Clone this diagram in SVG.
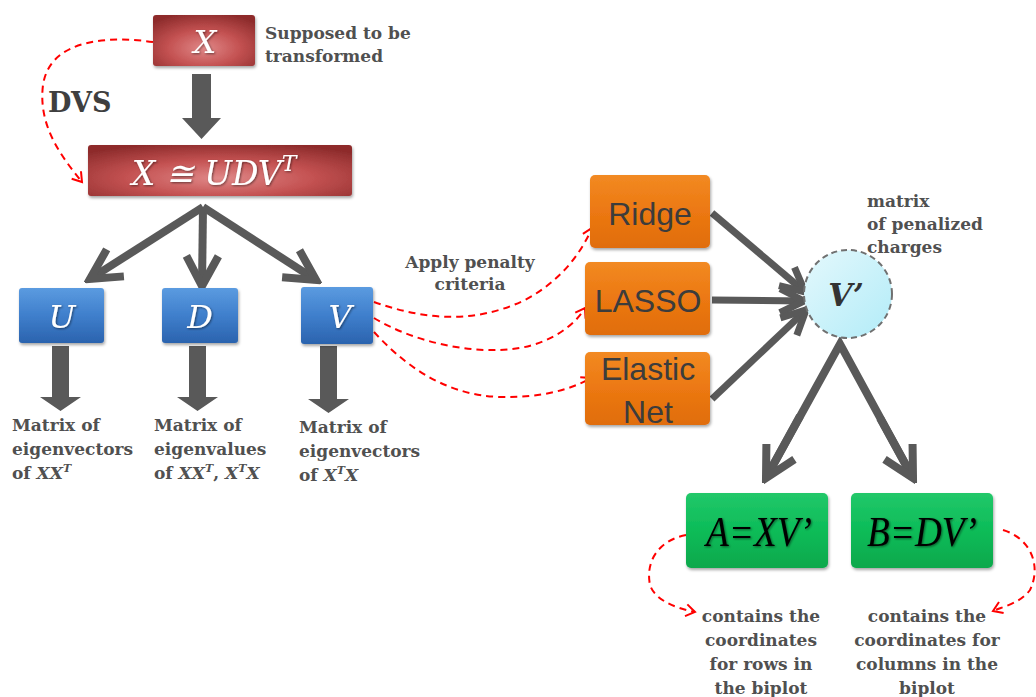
<svg xmlns="http://www.w3.org/2000/svg" width="1036" height="697" viewBox="0 0 1036 697">
<defs>
<radialGradient id="gRed" cx="0.5" cy="0.65" r="0.7">
<stop offset="0" stop-color="#e08888"/>
<stop offset="0.5" stop-color="#c45252"/>
<stop offset="1" stop-color="#8e2c2c"/>
</radialGradient>
<linearGradient id="gBlue" x1="0" y1="0" x2="0" y2="1">
<stop offset="0" stop-color="#5b9be0"/>
<stop offset="0.5" stop-color="#3f7fcc"/>
<stop offset="1" stop-color="#2b63ae"/>
</linearGradient>
<linearGradient id="gOrange" x1="0" y1="0" x2="0" y2="1">
<stop offset="0" stop-color="#f28a22"/>
<stop offset="0.5" stop-color="#ec7812"/>
<stop offset="1" stop-color="#e06d0c"/>
</linearGradient>
<linearGradient id="gGreen" x1="0" y1="0" x2="0" y2="1">
<stop offset="0" stop-color="#22c86a"/>
<stop offset="0.5" stop-color="#0cbc58"/>
<stop offset="1" stop-color="#0aa84c"/>
</linearGradient>
<linearGradient id="gCyan" x1="0" y1="0" x2="1" y2="1">
<stop offset="0" stop-color="#e4f8fc"/>
<stop offset="1" stop-color="#b2ecf8"/>
</linearGradient>
<filter id="sh" x="-10%" y="-10%" width="130%" height="140%">
<feDropShadow dx="1" dy="2" stdDeviation="1.5" flood-color="#000" flood-opacity="0.35"/>
</filter>
<filter id="tsh" x="-10%" y="-10%" width="130%" height="140%">
<feDropShadow dx="1" dy="1" stdDeviation="0.8" flood-color="#000" flood-opacity="0.5"/>
</filter>
<marker id="chev" markerUnits="userSpaceOnUse" markerWidth="40" markerHeight="40" viewBox="-34 -20 40 40" refX="0" refY="0" orient="auto">
<path d="M -30 -16 L 0 0 L -30 16" fill="none" stroke="#595959" stroke-width="8" stroke-linejoin="miter"/>
</marker>
<marker id="chevS" markerUnits="userSpaceOnUse" markerWidth="34" markerHeight="34" viewBox="-28 -17 34 34" refX="0" refY="0" orient="auto">
<path d="M -24 -12 L 0 0 L -24 12" fill="none" stroke="#595959" stroke-width="7" stroke-linejoin="miter"/>
</marker>
<marker id="redA" markerUnits="userSpaceOnUse" markerWidth="16" markerHeight="16" viewBox="-12 -8 16 16" refX="0" refY="0" orient="auto">
<path d="M -9 -6 L 0 0 L -9 6" fill="none" stroke="#ff0000" stroke-width="2"/>
</marker>
</defs>
<style>
.lbl{font-family:"DejaVu Serif",serif;font-weight:bold;font-size:17px;fill:#505050}
.m{font-style:italic}
.mathW{font-family:"DejaVu Serif",serif;font-style:italic;fill:#ffffff}
.orangeT{font-family:"Liberation Sans",Arial,sans-serif;font-size:32px;fill:#3c3c3c;text-anchor:middle}
.greenT{font-family:"Liberation Serif","Times New Roman",serif;font-style:italic;font-size:43px;fill:#000;text-anchor:middle}
.dash{fill:none;stroke:#ff0000;stroke-width:2;stroke-dasharray:7 5}
.thick{fill:none;stroke:#595959;stroke-width:8}
.thickS{fill:none;stroke:#595959;stroke-width:7}
.blk{fill:#595959}
</style>

<g id="connectors">
<polygon class="blk" points="192,74 211,74 211,118 221,118 201.5,139 182,118 192,118"/>
<line class="thick" x1="203" y1="207" x2="90" y2="279" marker-end="url(#chev)"/>
<line class="thick" x1="203" y1="207" x2="202" y2="286" marker-end="url(#chev)"/>
<line class="thick" x1="203" y1="207" x2="316" y2="280" marker-end="url(#chev)"/>
<polygon class="blk" points="52,346 69,346 69,397 81,397 60.5,411 40,397 52,397"/>
<polygon class="blk" points="189,346 206,346 206,397 218,397 197.5,411 177,397 189,397"/>
<polygon class="blk" points="320,346 337,346 337,399 349,399 328.5,413 308,399 320,399"/>
<line class="thickS" x1="712" y1="213" x2="805" y2="292" marker-end="url(#chevS)"/>
<line class="thickS" x1="712" y1="300" x2="804" y2="301" marker-end="url(#chevS)"/>
<line class="thickS" x1="712" y1="399" x2="806" y2="310" marker-end="url(#chevS)"/>
<polyline class="thick" points="766,478 840,344 913,478" fill="none"/>
<line class="thick" x1="800" y1="416" x2="766" y2="478" marker-end="url(#chev)"/>
<line class="thick" x1="880" y1="418" x2="913" y2="478" marker-end="url(#chev)"/>
<path class="dash" d="M 153 42 C 110 36, 50 38, 43 85 C 38 125, 60 155, 82 182" marker-end="url(#redA)"/>
<path class="dash" d="M 374 302 C 420 318, 470 326, 525 300 C 555 284, 578 260, 592 228" marker-end="url(#redA)"/>
<path class="dash" d="M 374 318 C 410 340, 470 356, 520 348 C 552 342, 575 325, 585 308" marker-end="url(#redA)"/>
<path class="dash" d="M 374 332 C 400 360, 440 395, 500 397 C 540 398, 570 390, 591 378" marker-end="url(#redA)"/>
<path class="dash" d="M 686 535 C 660 540, 645 560, 650 585 C 655 600, 675 608, 695 612" marker-end="url(#redA)"/>
<path class="dash" d="M 1003 530 C 1030 538, 1042 565, 1030 590 C 1020 603, 1005 606, 993 611" marker-end="url(#redA)"/>
</g>

<g id="node-X">
<rect x="153" y="15" width="102" height="51" rx="3" fill="url(#gRed)" filter="url(#sh)"/>
<text x="205" y="53" class="mathW" font-size="32" text-anchor="middle" filter="url(#tsh)">X</text>
</g>
<g id="label-supposed">
<text class="lbl" font-size="17.5"><tspan x="265" y="39">Supposed to be</tspan><tspan x="265" y="62">transformed</tspan></text>
</g>
<g id="label-DVS">
<text x="48" y="112" font-family="DejaVu Serif,serif" font-weight="bold" font-size="27" fill="#3f3f3f">DVS</text>
</g>
<g id="node-UDV">
<rect x="88" y="145" width="264" height="51" rx="3" fill="url(#gRed)" filter="url(#sh)"/>
<text x="214" y="185" class="mathW" font-size="33" text-anchor="middle" filter="url(#tsh)">X ≅ UDV<tspan font-size="22" dy="-14">T</tspan></text>
</g>
<g id="node-U">
<rect x="19" y="288" width="85" height="55" rx="3" fill="url(#gBlue)" filter="url(#sh)"/>
<text x="62" y="328" class="mathW" font-size="32" text-anchor="middle" filter="url(#tsh)">U</text>
</g>
<g id="node-D">
<rect x="162" y="288" width="76" height="55" rx="3" fill="url(#gBlue)" filter="url(#sh)"/>
<text x="200" y="328" class="mathW" font-size="32" text-anchor="middle" filter="url(#tsh)">D</text>
</g>
<g id="node-V">
<rect x="301" y="287" width="72" height="57" rx="3" fill="url(#gBlue)" filter="url(#sh)"/>
<text x="340" y="328" class="mathW" font-size="32" text-anchor="middle" filter="url(#tsh)">V</text>
</g>
<g id="label-U">
<text class="lbl"><tspan x="12" y="431">Matrix of</tspan><tspan x="12" y="455">eigenvectors</tspan><tspan x="12" y="479">of <tspan class="m">XX</tspan><tspan class="m" font-size="11" dy="-7">T</tspan></tspan></text>
</g>
<g id="label-D">
<text class="lbl"><tspan x="154" y="431">Matrix of</tspan><tspan x="154" y="455">eigenvalues</tspan><tspan x="154" y="479">of  <tspan class="m">XX</tspan><tspan class="m" font-size="11" dy="-7">T</tspan><tspan dy="7">, </tspan><tspan class="m">X</tspan><tspan class="m" font-size="11" dy="-7">T</tspan><tspan class="m" dy="7">X</tspan></tspan></text>
</g>
<g id="label-V">
<text class="lbl"><tspan x="299" y="433">Matrix of</tspan><tspan x="299" y="457">eigenvectors</tspan><tspan x="299" y="481">of <tspan class="m">X</tspan><tspan class="m" font-size="11" dy="-7">T</tspan><tspan class="m" dy="7">X</tspan></tspan></text>
</g>
<g id="label-apply">
<text class="lbl" text-anchor="middle"><tspan x="470" y="268">Apply penalty</tspan><tspan x="470" y="290">criteria</tspan></text>
</g>
<g id="node-ridge">
<rect x="590" y="175" width="120" height="73" rx="5" fill="url(#gOrange)" filter="url(#sh)"/>
<text x="650" y="225" class="orangeT">Ridge</text>
</g>
<g id="node-lasso">
<rect x="585" y="262" width="125" height="73" rx="5" fill="url(#gOrange)" filter="url(#sh)"/>
<text x="648" y="312" class="orangeT">LASSO</text>
</g>
<g id="node-elastic">
<rect x="585" y="352" width="125" height="73" rx="5" fill="url(#gOrange)" filter="url(#sh)"/>
<text class="orangeT"><tspan x="648" y="380">Elastic</tspan><tspan x="648" y="423">Net</tspan></text>
</g>
<g id="node-Vp">
<circle cx="848" cy="294" r="44" fill="url(#gCyan)" stroke="#707070" stroke-width="2" stroke-dasharray="6 4"/>
<text x="846" y="306" font-family="DejaVu Serif,serif" font-style="italic" font-weight="bold" font-size="31" fill="#333" text-anchor="middle">V’</text>
</g>
<g id="label-penalized">
<text class="lbl"><tspan x="867" y="207">matrix</tspan><tspan x="867" y="230">of penalized</tspan><tspan x="867" y="253">charges</tspan></text>
</g>
<g id="node-A">
<rect x="686" y="493" width="142" height="75" rx="5" fill="url(#gGreen)" filter="url(#sh)"/>
<text x="759" y="546" class="greenT" textLength="106" lengthAdjust="spacingAndGlyphs" filter="url(#tsh)">A=XV’</text>
</g>
<g id="node-B">
<rect x="851" y="493" width="142" height="75" rx="5" fill="url(#gGreen)" filter="url(#sh)"/>
<text x="922" y="546" class="greenT" textLength="110" lengthAdjust="spacingAndGlyphs" filter="url(#tsh)">B=DV’</text>
</g>
<g id="label-A">
<text class="lbl" text-anchor="middle"><tspan x="761" y="622">contains the</tspan><tspan x="761" y="646">coordinates</tspan><tspan x="761" y="670">for rows in</tspan><tspan x="761" y="694">the biplot</tspan></text>
</g>
<g id="label-B">
<text class="lbl" text-anchor="middle"><tspan x="927" y="622">contains the</tspan><tspan x="927" y="646">coordinates for</tspan><tspan x="927" y="670">columns in the</tspan><tspan x="927" y="694">biplot</tspan></text>
</g>
</svg>
